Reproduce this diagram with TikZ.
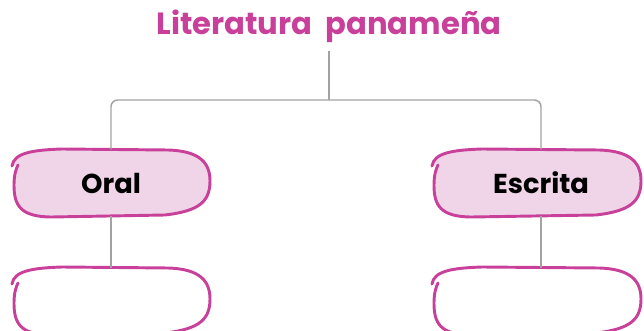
\documentclass[tikz,border=0pt]{standalone}
\usepackage{fontspec}
\setmainfont{Poppins}
\usetikzlibrary{backgrounds}
\definecolor{magentatxt}{HTML}{C8409A}
\definecolor{pinkfill}{HTML}{F0D4E8}
\definecolor{linegray}{HTML}{A3A3A3}
\newcommand{\handbox}[2]{(-#1,-17) .. controls (-#1+2,-30) and (-#1+20,-33) .. (-#1+50,-34) -- (#2-42,-33) .. controls (#2-10,-32) and (#2,-20) .. (#2,-2) .. controls (#2,18) and (#2-10,28) .. (#2-45,32) -- (-#1+40,34) .. controls (-#1+8,34) and (-#1+2,22) .. (-#1+2,2) .. controls (-#1+2,-8) and (-#1+4,-14) .. (-#1+6,-18)}
\begin{document}
\begin{tikzpicture}[x=0.75pt, y=-0.75pt,
    conn/.style={draw=linegray, line width=1.1pt},
    blobline/.style={draw=magentatxt, line width=2.2pt, line cap=round},
    cat/.style={minimum width=148pt, minimum height=49.5pt, inner sep=0pt, font=\bfseries\fontsize{20.5}{24}\selectfont}]
    \useasboundingbox (0,0) rectangle (644,331);
    \node[text=magentatxt, inner sep=6pt, font=\bfseries\fontsize{23}{27}\selectfont] (title) at (329,26) {Literatura~ panameña};
    \coordinate (bar) at (329,100);
    \node[cat] (oral) at (111,183) {Oral};
    \node[cat] (escrita) at (541,183) {Escrita};
    \node[cat] (oralnota) at (111,301) {};
    \node[cat] (escritanota) at (541,301) {};
    \begin{scope}[on background layer]
        \clip (0,0) rectangle (644,331);
        \draw[blobline, fill=pinkfill, shift={(oral.center)}] \handbox{99}{99};
        \draw[blobline, fill=pinkfill, shift={(escrita.center)}] \handbox{109}{100};
        \draw[blobline, shift={(oralnota.center)}] \handbox{99}{99};
        \draw[blobline, shift={(escritanota.center)}] \handbox{109}{100};
    \end{scope}
    \draw[conn] (title.south) -- (title.south |- bar);
    \draw[conn, rounded corners=5pt] (oral.north) |- (bar) -| (escrita.north);
    \draw[conn] (oral.south) -- (oralnota.north);
    \draw[conn] (escrita.south) -- (escritanota.north);
\end{tikzpicture}
\end{document}
